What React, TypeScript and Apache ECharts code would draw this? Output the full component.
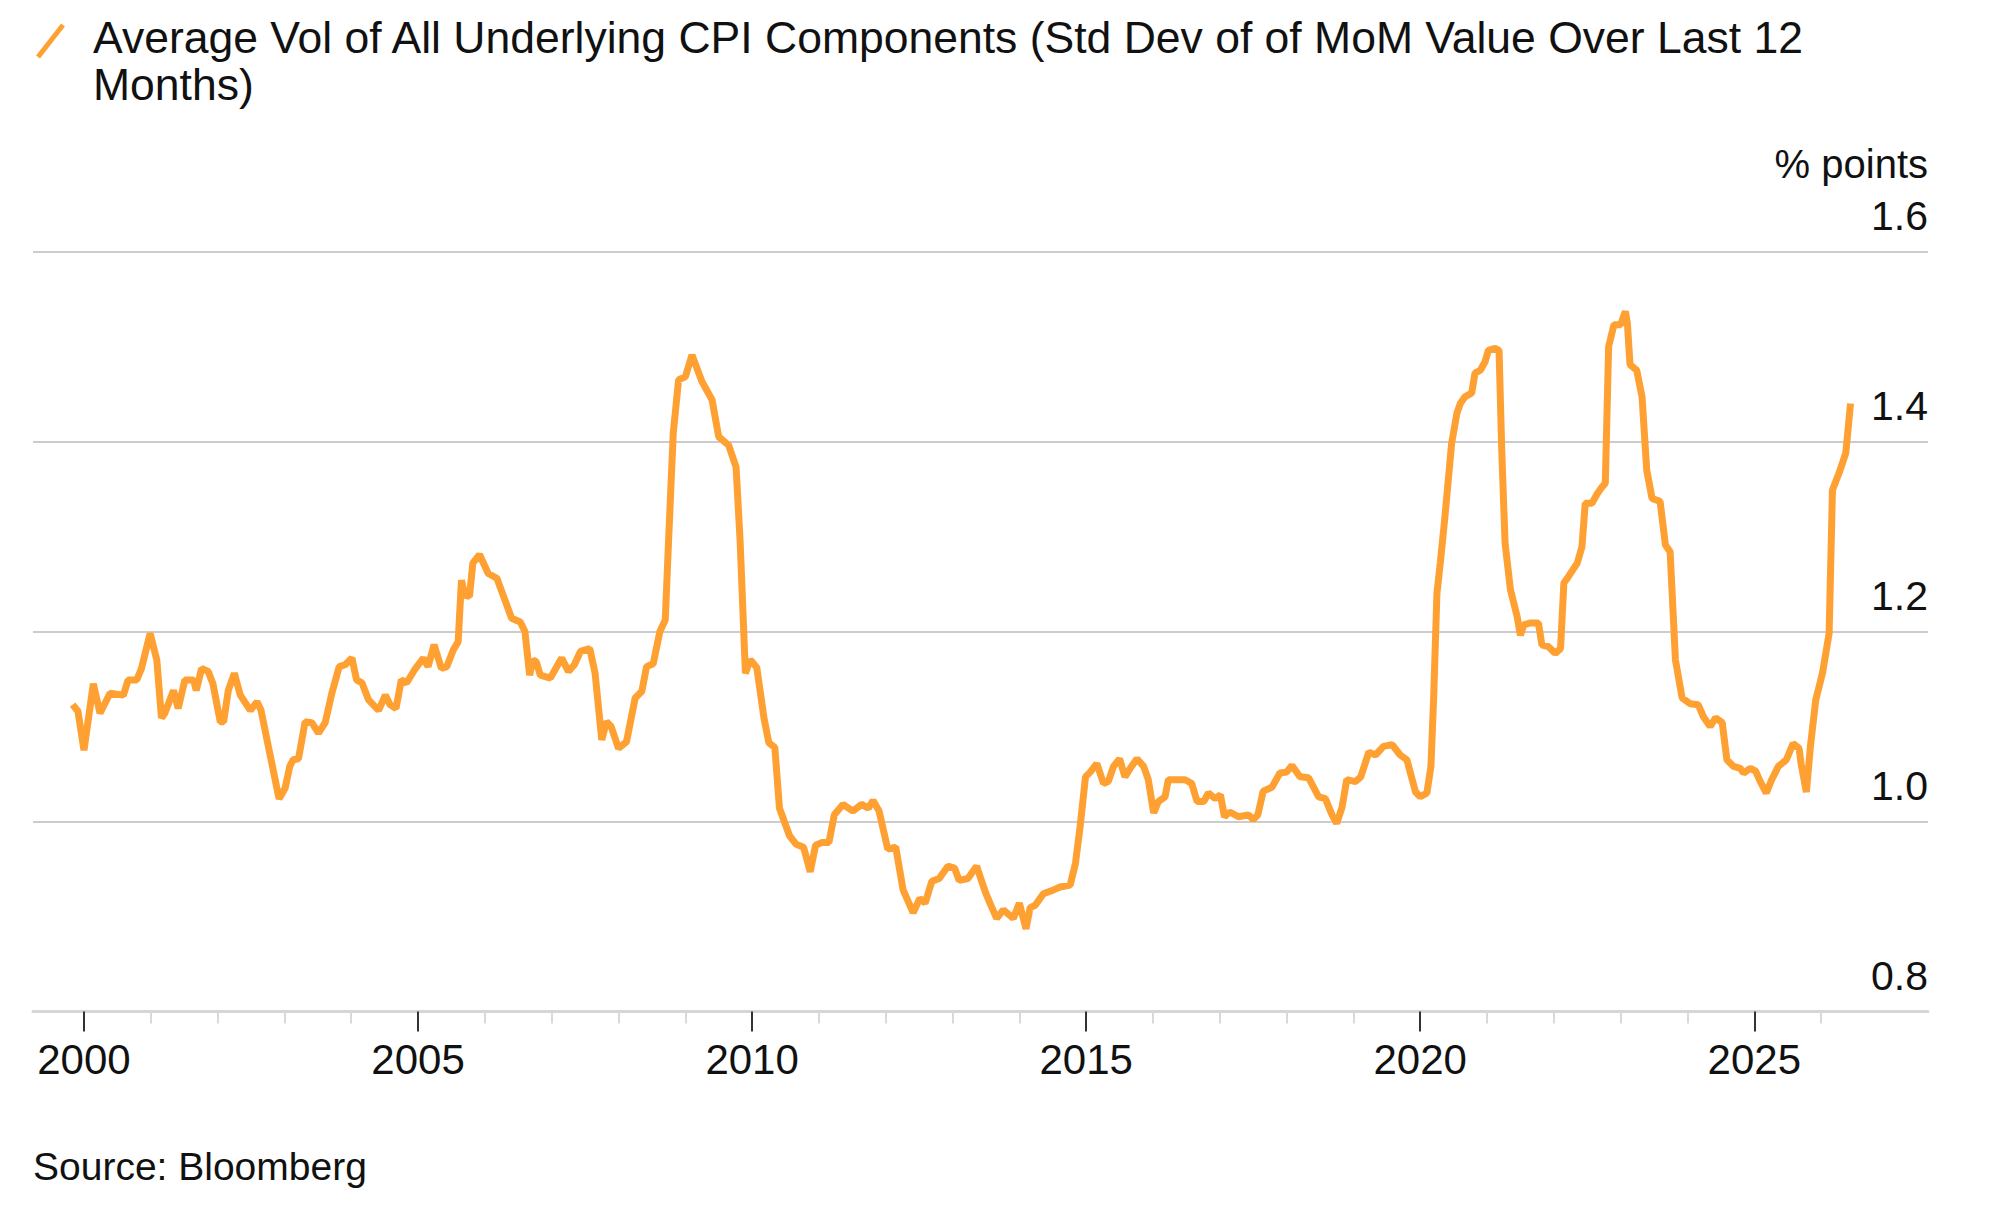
import React, { useEffect, useRef } from "react";
import * as echarts from "echarts";

const TITLE =
  "Average Vol of All Underlying CPI Components (Std Dev of of MoM Value Over Last 12\nMonths)";
const UNIT = "% points";
const SOURCE = "Source: Bloomberg";

const DATES = [
  1999.83, 1999.91, 2000.0, 2000.14, 2000.24, 2000.39, 2000.59, 2000.66, 2000.79, 2000.86,
  2000.99, 2001.09, 2001.16, 2001.21, 2001.34, 2001.41, 2001.51, 2001.64, 2001.68, 2001.76,
  2001.86, 2001.93, 2002.04, 2002.09, 2002.16, 2002.25, 2002.34, 2002.49, 2002.59, 2002.65,
  2002.78, 2002.92, 2003.01, 2003.08, 2003.13, 2003.21, 2003.31, 2003.41, 2003.51, 2003.61,
  2003.71, 2003.82, 2003.91, 2004.01, 2004.08, 2004.16, 2004.26, 2004.41, 2004.51, 2004.58,
  2004.67, 2004.75, 2004.83, 2004.96, 2005.08, 2005.15, 2005.24, 2005.35, 2005.43, 2005.53,
  2005.6, 2005.65, 2005.7, 2005.77, 2005.82, 2005.92, 2006.05, 2006.18, 2006.28, 2006.4,
  2006.53, 2006.6, 2006.67, 2006.72, 2006.77, 2006.83, 2006.98, 2007.15, 2007.25, 2007.34,
  2007.43, 2007.57, 2007.65, 2007.75, 2007.82, 2007.89, 2008.0, 2008.12, 2008.25, 2008.35,
  2008.42, 2008.52, 2008.62, 2008.7, 2008.75, 2008.82, 2008.9, 2009.0, 2009.1, 2009.25,
  2009.4, 2009.5, 2009.65, 2009.76, 2009.82, 2009.9, 2009.97, 2010.0, 2010.07, 2010.18,
  2010.25, 2010.34, 2010.41, 2010.56, 2010.66, 2010.77, 2010.87, 2010.95, 2011.05, 2011.15,
  2011.23, 2011.36, 2011.51, 2011.64, 2011.74, 2011.81, 2011.9, 2012.03, 2012.15, 2012.26,
  2012.41, 2012.51, 2012.59, 2012.69, 2012.8, 2012.93, 2013.03, 2013.1, 2013.23, 2013.36,
  2013.49, 2013.56, 2013.66, 2013.76, 2013.91, 2014.0, 2014.1, 2014.16, 2014.24, 2014.36,
  2014.51, 2014.61, 2014.76, 2014.84, 2014.91, 2014.99, 2015.06, 2015.16, 2015.26, 2015.33,
  2015.41, 2015.5, 2015.58, 2015.66, 2015.76, 2015.86, 2015.93, 2016.01, 2016.08, 2016.18,
  2016.23, 2016.36, 2016.48, 2016.58, 2016.66, 2016.76, 2016.83, 2016.93, 2017.01, 2017.07,
  2017.15, 2017.28, 2017.43, 2017.5, 2017.57, 2017.65, 2017.78, 2017.9, 2018.0, 2018.08,
  2018.2, 2018.33, 2018.48, 2018.58, 2018.68, 2018.75, 2018.83, 2018.9, 2019.03, 2019.11,
  2019.23, 2019.33, 2019.45, 2019.58, 2019.7, 2019.8, 2019.93, 2020.0, 2020.1, 2020.16,
  2020.2, 2020.25, 2020.3, 2020.37, 2020.47, 2020.55, 2020.6, 2020.67, 2020.77, 2020.82,
  2020.9, 2020.97, 2021.02, 2021.12, 2021.18, 2021.22, 2021.27, 2021.35, 2021.45, 2021.5,
  2021.55, 2021.65, 2021.77, 2021.82, 2021.92, 2022.02, 2022.1, 2022.15, 2022.22, 2022.35,
  2022.42, 2022.47, 2022.57, 2022.65, 2022.72, 2022.77, 2022.82, 2022.9, 2023.0, 2023.07,
  2023.1, 2023.14, 2023.24, 2023.32, 2023.39, 2023.47, 2023.59, 2023.67, 2023.74, 2023.82,
  2023.92, 2024.04, 2024.16, 2024.24, 2024.34, 2024.42, 2024.52, 2024.59, 2024.69, 2024.79,
  2024.84, 2024.94, 2025.02, 2025.09, 2025.18, 2025.26, 2025.36, 2025.48, 2025.58, 2025.67,
  2025.7, 2025.78, 2025.84, 2025.92, 2026.02, 2026.12, 2026.17, 2026.27, 2026.37, 2026.44,
];

const VALUES = [
  1.123, 1.116, 1.075, 1.145, 1.114, 1.135, 1.133, 1.149, 1.149, 1.161,
  1.198, 1.17, 1.109, 1.114, 1.138, 1.119, 1.149, 1.149, 1.138, 1.161,
  1.158, 1.145, 1.105, 1.105, 1.138, 1.156, 1.133, 1.117, 1.126, 1.117,
  1.072, 1.024, 1.035, 1.058, 1.065, 1.066, 1.105, 1.104, 1.093, 1.104,
  1.135, 1.163, 1.165, 1.172, 1.149, 1.146, 1.128, 1.117, 1.133, 1.123,
  1.119, 1.149, 1.146, 1.161, 1.172, 1.163, 1.186, 1.161, 1.163, 1.181,
  1.189, 1.254, 1.238, 1.237, 1.272, 1.281, 1.261, 1.256, 1.237, 1.214,
  1.21, 1.2, 1.154, 1.17, 1.168, 1.154, 1.151, 1.172, 1.158, 1.165,
  1.179, 1.182, 1.156, 1.086, 1.105, 1.1, 1.077, 1.084, 1.13, 1.137,
  1.163, 1.166, 1.2, 1.212, 1.296, 1.409, 1.465, 1.468, 1.491, 1.463,
  1.444, 1.405, 1.396, 1.373, 1.296, 1.156, 1.17, 1.168, 1.162, 1.108,
  1.083, 1.078, 1.014, 0.985, 0.976, 0.973, 0.947, 0.975, 0.978, 0.978,
  1.007, 1.018, 1.011, 1.018, 1.014, 1.022, 1.011, 0.971, 0.973, 0.928,
  0.904, 0.919, 0.914, 0.937, 0.94, 0.953, 0.951, 0.938, 0.94, 0.953,
  0.926, 0.914, 0.898, 0.907, 0.898, 0.914, 0.887, 0.909, 0.912, 0.924,
  0.928, 0.931, 0.933, 0.956, 0.995, 1.047, 1.052, 1.061, 1.04, 1.042,
  1.058, 1.066, 1.047, 1.056, 1.066, 1.058, 1.044, 1.009, 1.021, 1.026,
  1.044, 1.044, 1.044, 1.04, 1.021, 1.021, 1.03, 1.024, 1.028, 1.005,
  1.01, 1.005, 1.007, 1.002, 1.007, 1.032, 1.036, 1.051, 1.052, 1.059,
  1.047, 1.046, 1.026, 1.024, 1.007, 0.998, 1.015, 1.044, 1.042, 1.047,
  1.073, 1.07, 1.079, 1.081, 1.07, 1.065, 1.031, 1.026, 1.03, 1.058,
  1.128, 1.24, 1.272, 1.321, 1.398, 1.43, 1.44, 1.447, 1.451, 1.472,
  1.475, 1.484, 1.496, 1.498, 1.496, 1.391, 1.293, 1.244, 1.216, 1.196,
  1.207, 1.209, 1.209, 1.186, 1.184, 1.177, 1.182, 1.251, 1.258, 1.272,
  1.289, 1.335, 1.335, 1.345, 1.352, 1.356, 1.5, 1.523, 1.523, 1.537,
  1.525, 1.481, 1.475, 1.447, 1.37, 1.34, 1.337, 1.291, 1.284, 1.17,
  1.13, 1.124, 1.123, 1.11, 1.1, 1.109, 1.104, 1.065, 1.058, 1.056,
  1.051, 1.056, 1.053, 1.042, 1.03, 1.044, 1.058, 1.065, 1.082, 1.077,
  1.061, 1.031, 1.079, 1.128, 1.156, 1.198, 1.349, 1.367, 1.388, 1.44,
];

const MAJOR_TICKS = [2000, 2005, 2010, 2015, 2020, 2025];
const MINOR_TICKS = [
  2001, 2002, 2003, 2004, 2006, 2007, 2008, 2009, 2011, 2012, 2013, 2014, 2016, 2017,
  2018, 2019, 2021, 2022, 2023, 2024, 2026,
];
const Y_MIN = 0.8;
const Y_MAX = 1.6;
const Y_STEP = 0.2;
const X_MIN = 1999.237;
const X_MAX = 2027.6;

const ORANGE = "#FFA033";
const FONT = "'Liberation Sans', Arial, Helvetica, sans-serif";
const TEXT = "#111111";

export default function App() {
  const ref = useRef<HTMLDivElement>(null);

  useEffect(() => {
    document.body.style.margin = "0";
    document.body.style.overflow = "hidden";
    const chart = echarts.init(ref.current!, null, { renderer: "svg" });
    const data = DATES.map((d, i) => [d, VALUES[i]]);

    chart.setOption({
      animation: false,
      backgroundColor: "#ffffff",
      title: {
        text: TITLE,
        left: 93,
        top: 14,
        padding: 0,
        textStyle: {
          fontFamily: FONT,
          fontSize: 44.5,
          fontWeight: "normal",
          color: TEXT,
          lineHeight: 47,
        },
      },
      graphic: [
        {
          type: "line",
          shape: { x1: 38, y1: 57, x2: 63, y2: 25 },
          style: { stroke: ORANGE, lineWidth: 5 },
        },
        {
          type: "text",
          x: 1928,
          y: 164,
          style: {
            text: UNIT,
            font: `40px ${FONT}`,
            fill: TEXT,
            textAlign: "right",
            textVerticalAlign: "middle",
          },
        },
        {
          type: "text",
          x: 33,
          y: 1166,
          style: {
            text: SOURCE,
            font: `39px ${FONT}`,
            fill: TEXT,
            textAlign: "left",
            textVerticalAlign: "middle",
          },
        },
      ],
      grid: { left: 33, right: 72, top: 251.5, bottom: 216.5, containLabel: false },
      xAxis: [
        {
          type: "value",
          min: X_MIN,
          max: X_MAX,
          position: "bottom",
          axisLine: { show: true, lineStyle: { color: "#d6d6d6", width: 3 } },
          axisTick: {
            show: true,
            customValues: MAJOR_TICKS,
            length: 20,
            lineStyle: { color: "#333333", width: 2 },
          },
          axisLabel: {
            show: true,
            customValues: MAJOR_TICKS,
            formatter: (v: number) => String(Math.round(v)),
            margin: 27,
            fontFamily: FONT,
            fontSize: 42,
            color: TEXT,
          },
          splitLine: { show: false },
          z: 5,
        },
        {
          type: "value",
          min: X_MIN,
          max: X_MAX,
          position: "bottom",
          axisLine: { show: false },
          axisTick: {
            show: true,
            customValues: MINOR_TICKS,
            length: 12,
            lineStyle: { color: "#d9d9d9", width: 2 },
          },
          axisLabel: { show: false },
          splitLine: { show: false },
        },
      ],
      yAxis: {
        type: "value",
        position: "right",
        min: Y_MIN,
        max: Y_MAX,
        interval: Y_STEP,
        axisLine: { show: false },
        axisTick: { show: false },
        axisLabel: {
          inside: true,
          margin: 0,
          fontFamily: FONT,
          fontSize: 41,
          color: TEXT,
          verticalAlign: "bottom",
          lineHeight: 72,
          formatter: (v: number) => v.toFixed(1),
        },
        splitLine: { show: true, lineStyle: { color: "#cccccc", width: 2 } },
      },
      series: [
        {
          type: "line",
          xAxisIndex: 0,
          data,
          showSymbol: false,
          symbol: "none",
          lineStyle: { color: ORANGE, width: 7 },
          z: 3,
        },
      ],
    });

    return () => chart.dispose();
  }, []);

  return <div ref={ref} style={{ width: 2000, height: 1228 }} />;
}
